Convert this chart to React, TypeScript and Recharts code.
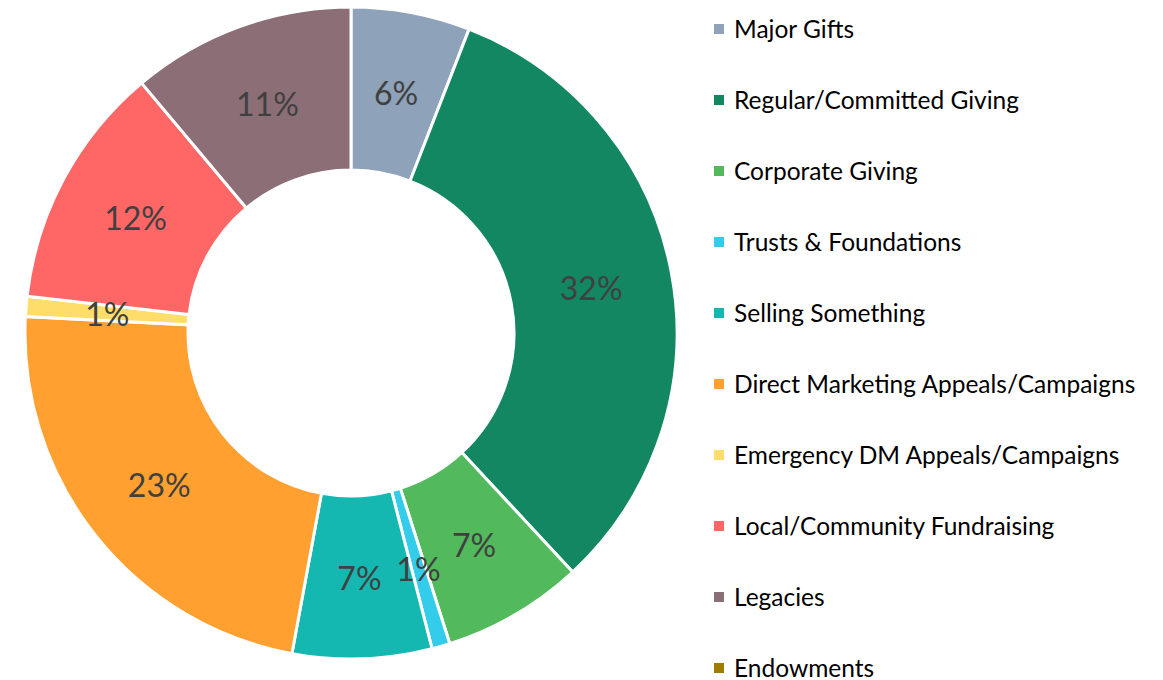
import { Legend, Pie, PieChart } from "recharts"

const categories = [
  "Major Gifts",
  "Regular/Committed Giving",
  "Corporate Giving",
  "Trusts & Foundations",
  "Selling Something",
  "Direct Marketing Appeals/Campaigns",
  "Emergency DM Appeals/Campaigns",
  "Local/Community Fundraising",
  "Legacies",
  "Endowments",
]

const shares = [5.9, 32.2, 7.0, 0.9, 6.9, 22.9, 1.0, 12.1, 11.1, 0]

const colors = [
  "#8EA2B9",
  "#138762",
  "#52B95C",
  "#33CCEB",
  "#14B8B0",
  "#FFA030",
  "#FFDD6A",
  "#FF6666",
  "#8B6E76",
  "#A07C00",
]

const chartData = categories.map((name, i) => ({ name, value: shares[i], fill: colors[i] }))

const RADIAN = Math.PI / 180

function renderLabel(props: any) {
  const { cx, cy, midAngle, innerRadius, outerRadius, percent, value } = props
  if (!value) return null
  const r = (innerRadius + outerRadius) / 2
  const x = cx + r * Math.cos(-midAngle * RADIAN)
  const y = cy + r * Math.sin(-midAngle * RADIAN)
  return (
    <text
      x={x}
      y={y}
      fill="#404040"
      fontSize={32}
      fontFamily="Lato, sans-serif"
      textAnchor="middle"
      dominantBaseline="central"
    >
      {`${Math.round(percent * 100)}%`}
    </text>
  )
}

function renderLegend() {
  return (
    <div style={{ fontFamily: "Lato, sans-serif", fontSize: 24.5, color: "#000" }}>
      {chartData.map((d) => (
        <div key={d.name} style={{ display: "flex", alignItems: "center", height: 71 }}>
          <span style={{ width: 10, height: 10, background: d.fill, marginRight: 10, display: "inline-block" }} />
          <span>{d.name}</span>
        </div>
      ))}
    </div>
  )
}

export default function App() {
  return (
    <PieChart width={1155} height={672} margin={{ top: 0, right: 0, bottom: 0, left: 0 }}>
      <Pie
        data={chartData}
        dataKey="value"
        nameKey="name"
        cx={343}
        cy={325}
        innerRadius={163}
        outerRadius={326}
        startAngle={90}
        endAngle={-270}
        stroke="#fff"
        strokeWidth={3}
        label={renderLabel}
        labelLine={false}
        isAnimationActive={false}
      />
      <Legend
        content={renderLegend}
        layout="vertical"
        wrapperStyle={{ position: "absolute", left: 706, top: -15, width: 440 }}
      />
    </PieChart>
  )
}
